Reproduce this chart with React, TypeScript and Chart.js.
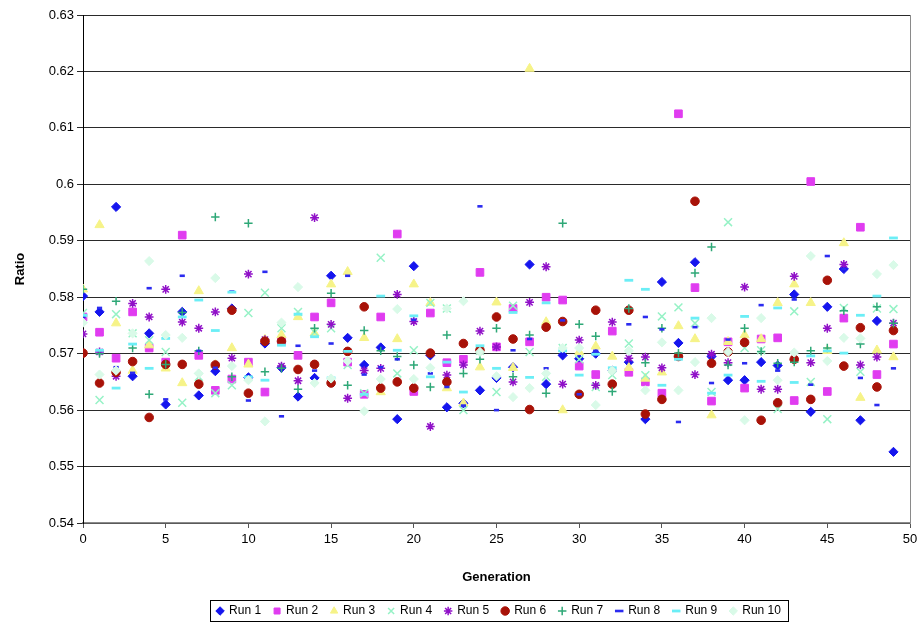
import React, { useEffect, useRef } from "react";
import { Chart, registerables } from "chart.js";

Chart.register(...registerables);

const GENERATIONS = [
  0, 1, 2, 3, 4, 5, 6, 7, 8, 9, 10, 11, 12, 13, 14, 15, 16, 17, 18, 19, 20, 21, 22, 23, 24,
  25, 26, 27, 28, 29, 30, 31, 32, 33, 34, 35, 36, 37, 38, 39, 40, 41, 42, 43, 44, 45, 46, 47, 48, 49,
];

const SERIES_NAMES = ["Run 1", "Run 2", "Run 3", "Run 4", "Run 5", "Run 6", "Run 7", "Run 8", "Run 9", "Run 10"];

const RUN_1 = [
  0.5802, 0.5774, 0.596, 0.566, 0.5736, 0.561, 0.5774, 0.5626, 0.5669, 0.578,
  0.5658, 0.5718, 0.5675, 0.5624, 0.5657, 0.5838, 0.5728, 0.568, 0.5711, 0.5584,
  0.5855, 0.5697, 0.5605, 0.5612, 0.5635, 0.5657, 0.5676, 0.5858, 0.5646, 0.5697,
  0.5691, 0.57, 0.567, 0.5685, 0.5584, 0.5827, 0.5719, 0.5862, 0.5695, 0.5653,
  0.5653, 0.5685, 0.5679, 0.5805, 0.5597, 0.5783, 0.585, 0.5582, 0.5758, 0.5526,
];
const RUN_2 = [
  0.5765, 0.5738, 0.5692, 0.5774, 0.571, 0.5685, 0.591, 0.5697, 0.5635, 0.5655,
  0.5685, 0.5632, 0.5722, 0.5697, 0.5765, 0.579, 0.5685, 0.5628, 0.5765, 0.5912,
  0.5633, 0.5772, 0.5684, 0.569, 0.5844, 0.5712, 0.578, 0.5721, 0.58, 0.5795,
  0.5678, 0.5663, 0.574, 0.5667, 0.565, 0.563, 0.6125, 0.5817, 0.5616, 0.5721,
  0.5639, 0.5726, 0.5728, 0.5617, 0.6005, 0.5633, 0.5763, 0.5924, 0.5663, 0.5717,
];
const RUN_3 = [
  0.5814, 0.5928, 0.5754, 0.567, 0.5715, 0.5674, 0.5648, 0.5811, 0.568, 0.571,
  0.5681, 0.5725, 0.5733, 0.5765, 0.5736, 0.5823, 0.5845, 0.5728, 0.5632, 0.5726,
  0.5823, 0.579, 0.5639, 0.5612, 0.5676, 0.5791, 0.5675, 0.6205, 0.5756, 0.56,
  0.5703, 0.5713, 0.5695, 0.5675, 0.5656, 0.5667, 0.5749, 0.5726, 0.5591, 0.5721,
  0.5733, 0.5726, 0.579, 0.5823, 0.579, 0.5705, 0.5896, 0.5622, 0.5706, 0.5694,
];
const RUN_4 = [
  0.5772, 0.5618, 0.577, 0.5736, 0.5724, 0.5703, 0.5613, 0.5659, 0.563, 0.5644,
  0.5772, 0.5808, 0.5745, 0.5774, 0.5738, 0.5745, 0.568, 0.563, 0.587, 0.5665,
  0.5706, 0.579, 0.578, 0.56, 0.5705, 0.5632, 0.5785, 0.5703, 0.5659, 0.571,
  0.569, 0.5641, 0.5662, 0.5718, 0.5662, 0.5766, 0.5782, 0.5754, 0.5632, 0.5933,
  0.571, 0.5706, 0.5602, 0.5775, 0.565, 0.5584, 0.5781, 0.5668, 0.578, 0.5779,
];
const RUN_5 = [
  0.5735, 0.5703, 0.566, 0.5789, 0.5765, 0.5814, 0.5756, 0.5745, 0.5774, 0.5692,
  0.5841, 0.5725, 0.5678, 0.5652, 0.5941, 0.5752, 0.5621, 0.567, 0.5674, 0.5805,
  0.5757, 0.5571, 0.5662, 0.568, 0.574, 0.5712, 0.565, 0.5791, 0.5854, 0.5646,
  0.5724, 0.5644, 0.5756, 0.5692, 0.5694, 0.5675, 0.5695, 0.5663, 0.5699, 0.5684,
  0.5818, 0.5637, 0.5637, 0.5837, 0.5684, 0.5745, 0.5858, 0.568, 0.5694, 0.5754,
];
const RUN_6 = [
  0.5701, 0.5648, 0.5667, 0.5686, 0.5587, 0.5681, 0.5681, 0.5646, 0.568, 0.5777,
  0.563, 0.5722, 0.5722, 0.5672, 0.5681, 0.5648, 0.5704, 0.5783, 0.5639, 0.565,
  0.5639, 0.5701, 0.565, 0.5718, 0.5706, 0.5765, 0.5726, 0.5601, 0.5747, 0.5757,
  0.5628, 0.5777, 0.5646, 0.5777, 0.5593, 0.5619, 0.5695, 0.597, 0.5683, 0.5703,
  0.572, 0.5582, 0.5613, 0.569, 0.5619, 0.583, 0.5678, 0.5746, 0.5641, 0.5741,
];
const RUN_7 = [
  0.5814, 0.57, 0.5793, 0.571, 0.5628, 0.5681, 0.5773, 0.5705, 0.5942, 0.5659,
  0.5931, 0.5668, 0.5674, 0.5637, 0.5745, 0.5807, 0.5644, 0.5741, 0.5705, 0.5695,
  0.568, 0.5641, 0.5733, 0.5665, 0.569, 0.5745, 0.5659, 0.5733, 0.563, 0.5931,
  0.5752, 0.5731, 0.5633, 0.578, 0.5684, 0.5745, 0.5701, 0.5843, 0.5889, 0.568,
  0.5745, 0.5704, 0.5683, 0.5685, 0.5705, 0.571, 0.5776, 0.5717, 0.5783, 0.5754,
];
const RUN_8 = [
  0.5765, 0.5781, 0.5676, 0.5666, 0.5816, 0.5619, 0.5838, 0.5705, 0.5675, 0.581,
  0.5617, 0.5845, 0.5589, 0.5714, 0.567, 0.5718, 0.5838, 0.5663, 0.5676, 0.569,
  0.576, 0.5665, 0.5641, 0.5608, 0.5961, 0.56, 0.5706, 0.5726, 0.5674, 0.5759,
  0.5628, 0.5705, 0.567, 0.5752, 0.5765, 0.5743, 0.5579, 0.5747, 0.5648, 0.5725,
  0.5683, 0.5786, 0.567, 0.5796, 0.5645, 0.5873, 0.585, 0.5657, 0.5609, 0.5674,
];
const RUN_9 = [
  0.5768, 0.5706, 0.5639, 0.5717, 0.5674, 0.5727, 0.5765, 0.5795, 0.5741, 0.5809,
  0.5659, 0.5653, 0.5715, 0.577, 0.573, 0.5657, 0.5704, 0.5628, 0.5802, 0.5706,
  0.5767, 0.5659, 0.5685, 0.5632, 0.5714, 0.5674, 0.5773, 0.5658, 0.579, 0.5705,
  0.5662, 0.5699, 0.5675, 0.583, 0.5814, 0.5644, 0.569, 0.5763, 0.563, 0.5662,
  0.5766, 0.5651, 0.5781, 0.5649, 0.5696, 0.5705, 0.5701, 0.5768, 0.5802, 0.5905,
];
const RUN_10 = [
  0.5755, 0.5663, 0.567, 0.5736, 0.5864, 0.5733, 0.5728, 0.5665, 0.5834, 0.5678,
  0.5653, 0.558, 0.5755, 0.5818, 0.5648, 0.5656, 0.5687, 0.5598, 0.5655, 0.5779,
  0.5655, 0.5675, 0.578, 0.5793, 0.5703, 0.566, 0.5623, 0.5639, 0.5665, 0.571,
  0.571, 0.5609, 0.567, 0.5705, 0.5635, 0.572, 0.5635, 0.5685, 0.5763, 0.5703,
  0.5582, 0.5763, 0.5653, 0.5702, 0.5873, 0.5687, 0.5728, 0.5727, 0.5841, 0.5857,
];

const RUNS = [RUN_1, RUN_2, RUN_3, RUN_4, RUN_5, RUN_6, RUN_7, RUN_8, RUN_9, RUN_10];

const STYLES = [
  { style: "rectRot", color: "#1515EE", r: 4.6, bw: 1 },
  { style: "rect", color: "#E03CF0", r: 5.4, bw: 1 },
  { style: "triangle", color: "#F6F388", r: 5.3, bw: 1 },
  { style: "crossRot", color: "#96F2C6", r: 5.6, bw: 1.5 },
  { style: "star", color: "#9010C8", r: 4.4, bw: 1.5 },
  { style: "circle", color: "#A81208", r: 4.3, bw: 1 },
  { style: "cross", color: "#2EA877", r: 4.2, bw: 1.5 },
  { style: "line", color: "#2B2BF0", r: 2.6, bw: 2.6 },
  { style: "line", color: "#6BEEF6", r: 4.4, bw: 2.8 },
  { style: "rectRot", color: "#D9FAE8", r: 4.6, bw: 1 },
];

const LEGEND_H = 34;
const LEGEND_SHIFT = 44;
const LEGEND_DROP = 2;

export default function App() {
  const canvasRef = useRef<HTMLCanvasElement | null>(null);

  useEffect(() => {
    const canvas = canvasRef.current;
    if (!canvas) return;

    const datasets = RUNS.map((vals, i) => ({
      label: SERIES_NAMES[i],
      data: GENERATIONS.map((g, j) => ({ x: g, y: vals[j] })),
      pointStyle: STYLES[i].style as any,
      pointRadius: STYLES[i].r,
      pointHoverRadius: STYLES[i].r,
      pointBackgroundColor: STYLES[i].color,
      pointBorderColor: STYLES[i].color,
      pointBorderWidth: STYLES[i].bw,
      backgroundColor: STYLES[i].color,
      borderColor: STYLES[i].color,
      borderWidth: STYLES[i].bw,
      showLine: false,
      order: 10 - i,
    }));

    const tweak = {
      id: "tweak",
      beforeLayout(chart: any) {
        const lg = chart.legend;
        if (lg && !lg.__patched) {
          const orig = lg.fit.bind(lg);
          lg.fit = function () {
            orig();
            this.height = LEGEND_H;
          };
          lg.__patched = true;
        }
      },
      afterLayout(chart: any) {
        const lg = chart.legend;
        if (lg) {
          lg.left += LEGEND_SHIFT;
          lg.right += LEGEND_SHIFT;
          lg.top += LEGEND_DROP;
          lg.bottom += LEGEND_DROP;
        }
      },
      afterDraw(chart: any) {
        const ctx = chart.ctx;
        const a = chart.chartArea;
        ctx.save();
        ctx.strokeStyle = "#8a8a8a";
        ctx.lineWidth = 1;
        ctx.beginPath();
        ctx.moveTo(Math.round(a.right) + 0.5, a.top);
        ctx.lineTo(Math.round(a.right) + 0.5, a.bottom);
        ctx.stroke();
        const lg = chart.legend;
        if (lg && lg.legendHitBoxes && lg.legendHitBoxes.length) {
          const hb = lg.legendHitBoxes;
          let l = Infinity, r = -Infinity, t = Infinity, b = -Infinity;
          for (const h of hb) {
            l = Math.min(l, h.left);
            r = Math.max(r, h.left + h.width);
            t = Math.min(t, h.top);
            b = Math.max(b, h.top + h.height);
          }
          ctx.strokeStyle = "#000";
          ctx.lineWidth = 1;
          ctx.strokeRect(Math.round(l - 7) + 0.5, Math.round(t - 5) + 0.5, Math.round(r - l + 14), Math.round(b - t + 9));
        }
        ctx.restore();
      },
    };

    const chart = new Chart(canvas, {
      type: "scatter",
      data: { datasets: datasets as any },
      options: {
        animation: false,
        responsive: false,
        maintainAspectRatio: false,
        layout: { padding: { top: 15, right: 14, bottom: 0, left: 0 } },
        plugins: {
          tooltip: { enabled: false },
          legend: {
            display: true,
            position: "bottom",
            labels: {
              usePointStyle: true,
              boxWidth: 6,
              boxHeight: 6,
              padding: 13,
              color: "#000",
              font: { family: "'Liberation Sans', Arial, sans-serif", size: 12 },
              sort: (a: any, b: any) => a.datasetIndex - b.datasetIndex,
            },
          },
        },
        scales: {
          x: {
            type: "linear",
            min: 0,
            max: 50,
            afterFit: (s: any) => {
              s.height = 67;
            },
            ticks: {
              stepSize: 5,
              color: "#000",
              padding: 4,
              maxRotation: 0,
              font: { family: "'Liberation Sans', Arial, sans-serif", size: 13 },
            },
            grid: {
              display: true,
              drawOnChartArea: false,
              drawTicks: true,
              tickLength: 5,
              color: "#555",
            },
            border: { display: true, color: "#8a8a8a", width: 1.5 },
            title: {
              display: true,
              text: "Generation",
              color: "#000",
              padding: { top: 0, bottom: 5 },
              font: { family: "'Liberation Sans', Arial, sans-serif", size: 13, weight: "bold" },
            },
          },
          y: {
            type: "linear",
            min: 0.54,
            max: 0.63,
            afterFit: (s: any) => {
              s.width = 83;
            },
            ticks: {
              stepSize: 0.01,
              color: "#000",
              padding: 3,
              font: { family: "'Liberation Sans', Arial, sans-serif", size: 13 },
              callback: (v: any) => String(Math.round(Number(v) * 100) / 100),
            },
            grid: {
              display: true,
              drawOnChartArea: true,
              drawTicks: true,
              tickLength: 6,
              color: "#2a2a2a",
              lineWidth: 1,
            },
            border: { display: true, color: "#000", width: 1 },
            title: {
              display: true,
              text: "Ratio",
              color: "#000",
              padding: { top: 13, bottom: 0 },
              font: { family: "'Liberation Sans', Arial, sans-serif", size: 13, weight: "bold" },
            },
          },
        },
      },
      plugins: [tweak as any],
    });

    return () => {
      chart.destroy();
    };
  }, []);

  return (
    <div style={{ position: "absolute", left: 0, top: 0, width: 924, height: 624, background: "#fff" }}>
      <canvas ref={canvasRef} width={924} height={624} style={{ width: 924, height: 624, display: "block" }} />
    </div>
  );
}
